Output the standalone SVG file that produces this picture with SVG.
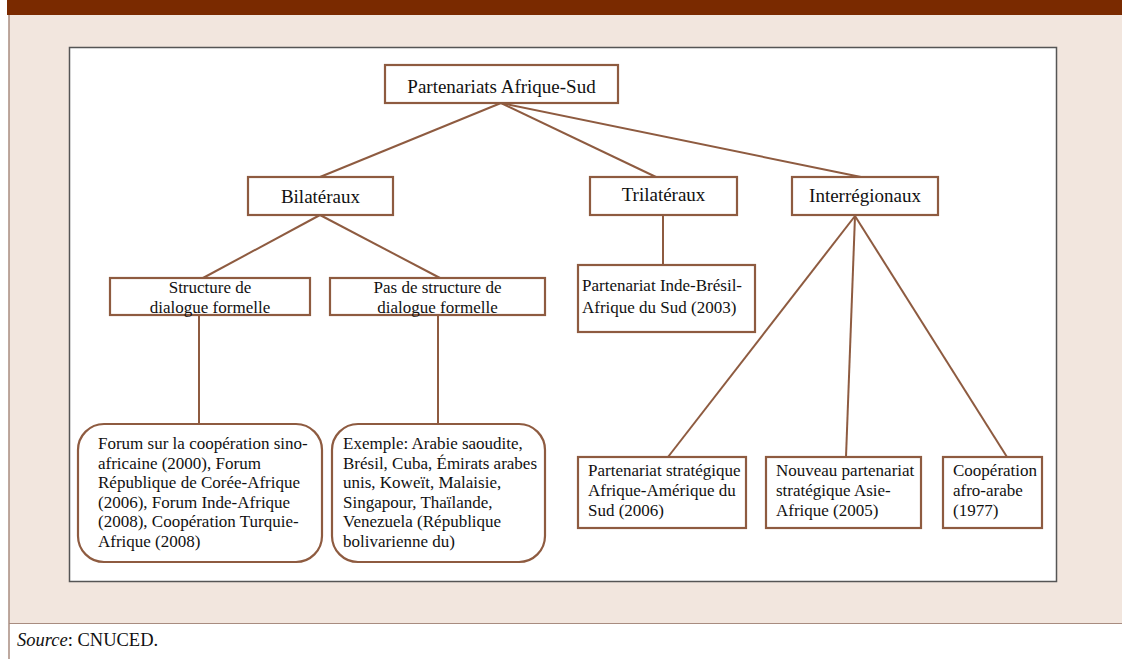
<svg xmlns="http://www.w3.org/2000/svg" width="1122" height="659" viewBox="0 0 1122 659">
<style>
.box{fill:#fff;stroke:#8E5B40;stroke-width:2.2}
.edge{stroke:#8E5B40;stroke-width:2;fill:none}
text{font-family:"Liberation Serif","Times New Roman",serif;font-size:17px;fill:#111}
.big{font-size:19px}
.c{text-anchor:middle}
</style>
<rect x="0" y="0" width="1122" height="659" fill="#fff"/>
<rect x="7" y="0" width="1115" height="15" fill="#7A2A00"/>
<rect x="9" y="15" width="1113" height="608" fill="#F2E6DE"/>
<line x1="9" y1="15" x2="9" y2="659" stroke="#A88C80" stroke-width="1.5"/>
<line x1="9" y1="623.5" x2="1122" y2="623.5" stroke="#A88C80" stroke-width="1"/>
<rect x="69.5" y="47.5" width="987" height="534" fill="#fff" stroke="#555" stroke-width="1.5"/>
<g id="connectors">
<line class="edge" x1="501" y1="103" x2="320" y2="177"/>
<line class="edge" x1="501" y1="103" x2="656" y2="177"/>
<line class="edge" x1="501" y1="103" x2="861" y2="177"/>
<line class="edge" x1="320" y1="215" x2="203" y2="278"/>
<line class="edge" x1="320" y1="215" x2="440" y2="278"/>
<line class="edge" x1="663" y1="215" x2="663" y2="265"/>
<line class="edge" x1="199" y1="315" x2="199" y2="424"/>
<line class="edge" x1="438" y1="315" x2="438" y2="424"/>
<line class="edge" x1="855" y1="216" x2="668" y2="457"/>
<line class="edge" x1="855" y1="216" x2="846" y2="457"/>
<line class="edge" x1="855" y1="216" x2="1007" y2="457"/>
</g>
<g id="root"><rect class="box" x="385" y="65" width="233" height="38"/><text class="c big" x="501.5" y="93">Partenariats Afrique-Sud</text></g>
<g id="bilateraux"><rect class="box" x="248" y="177" width="145" height="38"/><text class="c big" x="320.5" y="203">Bilatéraux</text></g>
<g id="trilateraux"><rect class="box" x="590" y="177" width="147" height="38"/><text class="c big" x="663.5" y="201">Trilatéraux</text></g>
<g id="interregionaux"><rect class="box" x="792" y="177" width="146" height="38"/><text class="c big" x="865" y="202">Interrégionaux</text></g>
<g id="structure"><rect class="box" x="110" y="278" width="200" height="37"/><text class="c" x="210" y="293">Structure de</text><text class="c" x="210" y="313">dialogue formelle</text></g>
<g id="pas-structure"><rect class="box" x="330" y="278" width="215" height="37"/><text class="c" x="437.5" y="293">Pas de structure de</text><text class="c" x="437.5" y="313">dialogue formelle</text></g>
<g id="ibsa"><rect class="box" x="578" y="265" width="177" height="67"/><text x="582" y="291">Partenariat Inde-Brésil-</text><text x="582" y="313">Afrique du Sud (2003)</text></g>
<g id="forums"><rect class="box" x="78" y="424" width="244" height="138" rx="26" ry="26"/>
<text x="98" y="449">Forum sur la coopération sino-</text>
<text x="98" y="468.5">africaine (2000), Forum</text>
<text x="98" y="488">République de Corée-Afrique</text>
<text x="98" y="507.5">(2006), Forum Inde-Afrique</text>
<text x="98" y="527">(2008), Coopération Turquie-</text>
<text x="98" y="546.5">Afrique (2008)</text></g>
<g id="exemple"><rect class="box" x="332" y="424" width="213" height="138" rx="26" ry="26"/>
<text x="343" y="449">Exemple: Arabie saoudite,</text>
<text x="343" y="468.5">Brésil, Cuba, Émirats arabes</text>
<text x="343" y="488">unis, Koweït, Malaisie,</text>
<text x="343" y="507.5">Singapour, Thaïlande,</text>
<text x="343" y="527">Venezuela (République</text>
<text x="343" y="546.5">bolivarienne du)</text></g>
<g id="afrique-amerique"><rect class="box" x="578" y="457" width="168" height="71"/><text x="588" y="476">Partenariat stratégique</text><text x="588" y="496">Afrique-Amérique du</text><text x="588" y="516">Sud (2006)</text></g>
<g id="asie-afrique"><rect class="box" x="766" y="457" width="155" height="71"/><text x="776" y="476">Nouveau partenariat</text><text x="776" y="496">stratégique Asie-</text><text x="776" y="516">Afrique (2005)</text></g>
<g id="afro-arabe"><rect class="box" x="943" y="457" width="99" height="71"/><text x="953" y="476">Coopération</text><text x="953" y="496">afro-arabe</text><text x="953" y="516">(1977)</text></g>
<text x="17" y="646" style="font-size:18.5px"><tspan font-style="italic">Source</tspan>: CNUCED.</text>
</svg>
